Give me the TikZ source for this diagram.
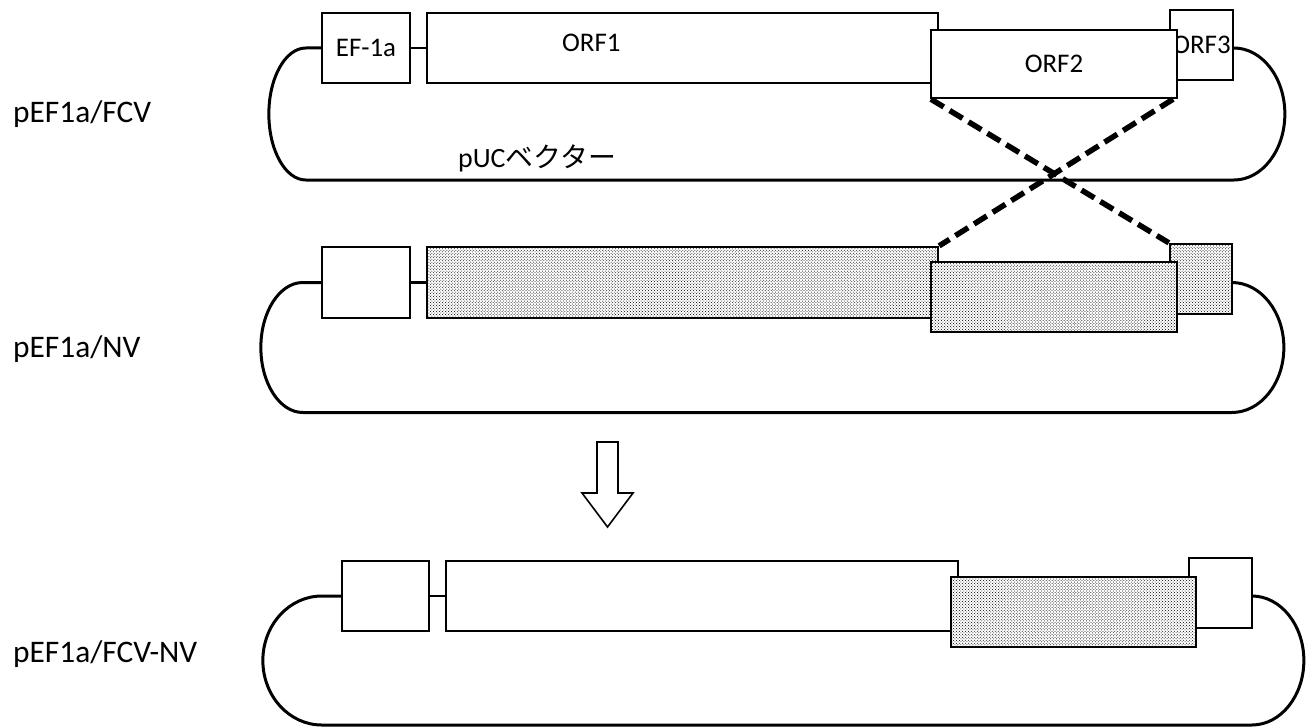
\documentclass[tikz,border=0pt]{standalone}
\usepackage{fontspec}
\setmainfont{Carlito}
\newfontfamily\jpfont{Noto Sans CJK JP}
\usetikzlibrary{patterns}

\begin{document}
\begin{tikzpicture}[x=1bp, y=-1bp, line width=2.3bp,
  gene/.style={draw, fill=white, inner sep=0pt, font=\fontsize{27}{31}\selectfont},
  shaded/.style={gene, preaction={fill=white}, pattern=crosshatch dots, pattern color=black},
  backbone/.style={line width=3bp},
  swap/.style={line width=5.5bp, dash pattern=on 15bp off 7bp},
  plasmid/.style={anchor=base west, inner sep=0pt, font=\fontsize{31.5}{37}\selectfont}]
  \useasboundingbox (0,0) rectangle (1316,727);

  % top: pEF1a/FCV
  \node[plasmid] (fcvname) at (12,123) {pEF1a/FCV};
  \node[gene, minimum width=88bp, minimum height=70bp] (fcvprom) at (366,48) {EF-1a};
  \node[gene, minimum width=511bp, minimum height=70bp] (fcvorfa) at (682.5,48) {};
  \node[gene, minimum width=63bp, minimum height=70bp] (fcvorfc) at (1201.5,45) {ORF3};
  \node[gene, minimum width=246bp, minimum height=68bp] (fcvorfb) at (1054,64) {ORF2};
  \node[anchor=base west, inner sep=0pt, font=\fontsize{27}{31}\selectfont] (fcvorfatext) at (561,52) {ORF1};
  \node[anchor=base west, inner sep=0pt, font=\fontsize{28}{32}\selectfont] (vector) at (457,167) {pUC{\jpfont ベクター}};
  \draw (fcvprom) -- (fcvorfa);
  \draw[backbone] (fcvprom.west) -- ++(-15,0)
    arc[start angle=90, end angle=270, x radius=37bp, y radius=66bp] -- ++(928,0)
    arc[start angle=-90, end angle=90, x radius=51bp, y radius=66bp];

  % middle: pEF1a/NV
  \node[plasmid] (nvname) at (12,357) {pEF1a/NV};
  \node[gene, minimum width=88bp, minimum height=71bp] (nvprom) at (366,282.5) {};
  \node[shaded, minimum width=511bp, minimum height=71bp] (nvorfa) at (682.5,282.5) {};
  \node[shaded, minimum width=62bp, minimum height=70bp] (nvorfc) at (1201,279) {};
  \node[shaded, minimum width=246bp, minimum height=70bp] (nvorfb) at (1054,297) {};
  \draw (nvprom) -- (nvorfa);
  \draw[backbone] (nvprom.west) -- ++(-18,0)
    arc[start angle=90, end angle=270, x radius=42bp, y radius=65bp] -- ++(929,0)
    arc[start angle=-90, end angle=90, x radius=52bp, y radius=65bp];

  % crossover between ORF2 regions
  \draw[swap] ([xshift=1bp]fcvorfb.south west) -- (nvorfc.north west);
  \draw[swap] ([xshift=-5bp]fcvorfb.south east) -- (nvorfa.north east);

  % hollow arrow
  \draw[line width=1.6bp] (597,442) -- (618,442) -- (618,493) -- (633,493)
    -- (607.5,527) -- (582,493) -- (597,493) -- cycle;

  % bottom: pEF1a/FCV-NV
  \node[plasmid] (chname) at (12,662) {pEF1a/FCV-NV};
  \node[gene, minimum width=87bp, minimum height=70bp] (chprom) at (385.5,596) {};
  \node[gene, minimum width=512bp, minimum height=70bp] (chorfa) at (702,596) {};
  \node[gene, minimum width=63bp, minimum height=70bp] (chorfc) at (1220.5,593) {};
  \node[shaded, minimum width=245bp, minimum height=70bp] (chorfb) at (1073.5,612) {};
  \draw (chprom) -- (chorfa);
  \draw[backbone] (chprom.west) -- ++(-19,0)
    arc[start angle=90, end angle=270, x radius=59bp, y radius=64.5bp] -- ++(930,0)
    arc[start angle=-90, end angle=90, x radius=52bp, y radius=64.5bp];
\end{tikzpicture}
\end{document}
